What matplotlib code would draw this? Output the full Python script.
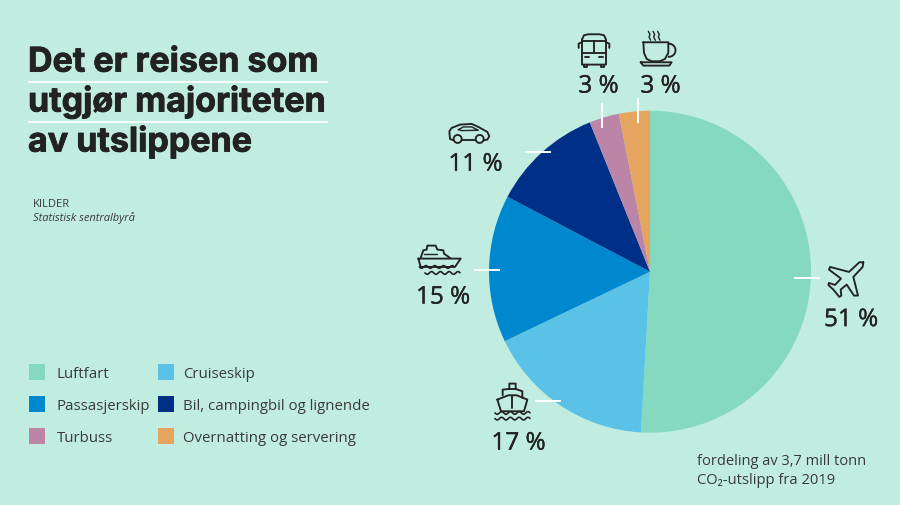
import numpy as np
import matplotlib
matplotlib.use('Agg')
import matplotlib.pyplot as plt
import matplotlib.patheffects as pe
from matplotlib.patches import Circle, Rectangle, Arc

plt.rcParams['font.family'] = ['Open Sans', 'DejaVu Sans']

# data
categories = ['Luftfart', 'Cruiseskip', 'Passasjerskip',
              'Bil, campingbil og lignende', 'Turbuss', 'Overnatting og servering']
shares = [50.9, 17.0, 14.8, 11.2, 3.0, 3.1]
share_labels = ['51 %', '17 %', '15 %', '11 %', '3 %', '3 %']
colors = ['#85D9BF', '#5BC2E7', '#0088CE', '#002F87', '#BC84A6', '#E5A55F']
title_lines = ['Det er reisen som', 'utgjør majoriteten', 'av utslippene']

BG = '#C1ECE0'
INK = '#222222'
LW = 1.35

fig = plt.figure(figsize=(9, 5.06), dpi=100, facecolor=BG)

# pie, center 650,272.7 radius 161 in pixels
ax = fig.add_axes([(650 - 161) / 900, 1 - (272.7 + 161) / 506, 322 / 900, 322 / 506])
ax.pie(shares, colors=colors, startangle=90, counterclock=False, radius=1,
       wedgeprops={'linewidth': 0})
ax.set_xlim(-1, 1)
ax.set_ylim(-1, 1)

# everything else in pixel coords
ov = fig.add_axes([0, 0, 1, 1], facecolor='none', zorder=5)
ov.set_xlim(0, 900)
ov.set_ylim(505.4, -0.6)
ov.axis('off')

# title
fat = [pe.withStroke(linewidth=0.6, foreground=INK)]
for txt, y in zip(title_lines, [72, 112, 152]):
    ov.text(28, y, txt, fontsize=24.5, fontweight='bold', family=['Inter', 'DejaVu Sans'],
            color=INK, va='baseline', path_effects=fat)
for y in [82, 122]:
    ov.plot([28, 328], [y, y], color='white', lw=1.2, solid_capstyle='butt')

ov.text(33, 206.5, 'KILDER', fontsize=8, color='#3a3a3a', va='baseline')
ov.text(33, 220.5, 'Statistisk sentralbyrå', fontsize=8, style='italic', color='#3a3a3a', va='baseline')

# legend, filled column by column of two
legend_x = [29, 158, 29, 158, 29, 158]
legend_y = [364, 364, 396, 396, 428, 428]
for name, col, x, y in zip(categories, colors, legend_x, legend_y):
    ov.add_patch(Rectangle((x, y), 16, 16, facecolor=col, edgecolor='none'))
    tx = 57 if x == 29 else 183
    ov.text(tx, y + 7.5, name, fontsize=10.8, color='#3a3a3a', va='center_baseline')

# percent labels
label_x = [851, 518.5, 443, 475.5, 598.5, 660.5]
label_y = [326.5, 450, 304, 171, 93, 93]
thin = [pe.withStroke(linewidth=0.25, foreground=INK)]
for lab, x, y in zip(share_labels, label_x, label_y):
    ov.text(x, y, lab, fontsize=17.5, color=INK, ha='center', va='baseline',
            path_effects=thin)

# white leader ticks
ticks = [((794, 820), (278, 278)), ((535, 561), (401, 401)), ((474, 500), (270, 270)),
         ((525, 551), (152, 152)), ((602, 602), (103, 128)), ((638, 638), (98, 123))]
for xs, ys in ticks:
    ov.plot(xs, ys, color='white', lw=1.4, solid_capstyle='butt')

ov.text(697, 464.5, 'fordeling av 3,7 mill tonn', fontsize=10.5, color='#3a3a3a', va='baseline')
ov.text(697, 483.5, 'CO₂-utslipp fra 2019', fontsize=10.6, color='#3a3a3a', va='baseline')


# icons, coordinates taken from 3x crops so scale back down
def stroke(pts, ox, oy, lw=LW):
    pts = np.array(pts, dtype=float)
    ov.plot(ox + pts[:, 0] / 3, oy + pts[:, 1] / 3, color=INK, lw=lw,
            solid_joinstyle='round', solid_capstyle='round')

def waves(x0, x1, y, ox, oy):
    xs = np.linspace(x0, x1, 60)
    stroke(np.column_stack([xs, y + 4 * np.sin((xs - x0) / 4.2)]), ox, oy, lw=1.2)

# bus
o = (400, 20)
stroke([(546, 60), (552, 47), (565, 44), (598, 44), (612, 47), (618, 60), (618, 135),
        (546, 135), (546, 60)], *o)
stroke([(546, 63), (618, 63)], *o)
stroke([(546, 100), (618, 100)], *o)
stroke([(582, 63), (582, 100)], *o)
stroke([(555, 113), (566, 113)], *o)
stroke([(597, 113), (609, 113)], *o)
stroke([(536, 85), (536, 72), (546, 68)], *o)
stroke([(628, 85), (628, 72), (618, 68)], *o)
stroke([(552, 135), (552, 142), (562, 142), (562, 135)], *o)
stroke([(602, 135), (602, 142), (612, 142), (612, 135)], *o)

# coffee
stroke([(730, 68), (805, 68), (805, 100), (795, 118), (780, 125), (755, 125), (740, 118),
        (732, 100), (730, 68)], *o)
ov.add_patch(Arc((400 + 807 / 3, 20 + 92 / 3), 13, 13, theta1=-100, theta2=100,
                 edgecolor=INK, lw=LW))
stroke([(722, 128), (815, 128), (808, 138), (730, 138), (722, 128)], *o)
for sx in [748, 762, 776]:
    stroke([(sx - 3, 35), (sx + 2, 45), (sx - 1, 52), (sx + 4, 62)], *o, lw=1.0)

# car
stroke([(160, 362), (150, 358), (148, 335), (155, 325), (180, 315), (215, 313), (235, 322),
        (262, 337), (268, 350), (262, 360), (252, 362)], *o)
stroke([(186, 362), (226, 362)], *o)
stroke([(175, 330), (190, 322), (215, 322), (235, 332), (185, 333), (175, 330)], *o, lw=1.0)
for cx in [173, 239]:
    ov.add_patch(Circle((400 + cx / 3, 20 + 358 / 3), 4, facecolor='none', edgecolor=INK, lw=LW))

# cruise ship
o = (400, 230)
stroke([(55, 87), (182, 87), (165, 112), (62, 112), (55, 87)], *o)
stroke([(62, 85), (70, 62), (80, 60), (82, 48), (107, 48), (112, 60), (130, 62), (132, 72),
        (150, 85)], *o)
stroke([(72, 73), (112, 73)], *o, lw=1.0)
waves(58, 160, 112, *o)
waves(75, 180, 130, *o)

# ferry seen from front
stroke([(292, 510), (325, 497), (350, 497), (382, 510), (372, 545), (303, 545), (292, 510)], *o)
stroke([(308, 497), (308, 480), (328, 478), (328, 462), (347, 462), (347, 478), (367, 485),
        (367, 505)], *o)
stroke([(328, 478), (347, 478)], *o)
stroke([(337, 500), (337, 535)], *o)
waves(285, 390, 550, *o)
waves(285, 390, 567, *o)

# plane
o = (780, 240)
stroke([(250, 68), (238, 68), (207, 97), (150, 82), (147, 90), (183, 117), (165, 136), (147, 130),
        (145, 136), (160, 150), (178, 172), (184, 168), (182, 150), (200, 135), (222, 168),
        (234, 168), (220, 112), (248, 82), (250, 68)], *o)

fig.savefig('out.png', dpi=100, facecolor=BG)
